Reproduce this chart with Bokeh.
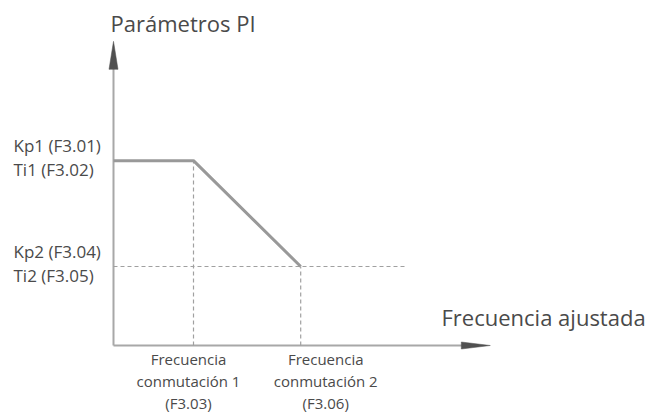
from bokeh.plotting import figure
from bokeh.models import Range1d
from bokeh.core.properties import value
from bokeh.embed import file_html
from bokeh.resources import INLINE

# ---- data ----
switch_freqs = [1.0, 2.34]          # Frecuencia conmutación 1 (F3.03), 2 (F3.06)
param_levels = [2.34, 1.0]          # Kp1/Ti1 level, Kp2/Ti2 level
x_axis_end = 4.71
y_axis_end = 3.85
dash_end = 3.675
left_labels = [["Kp1 (F3.01)", "Ti1 (F3.02)"], ["Kp2 (F3.04)", "Ti2 (F3.05)"]]
bottom_labels = [["Frecuencia", "conmutación 1", "(F3.03)"],
                 ["Frecuencia", "conmutación 2", "(F3.06)"]]
y_title = "Parámetros PI"
x_title = "Frecuencia ajustada"

W, H = 648, 418
ux, uy = 80.0, 79.0
ox, oy = 113.0, 345.0  # pixel position of origin (from left / from top)

p = figure(width=W, height=H, output_backend="svg", toolbar_location=None,
           x_range=Range1d(-ox / ux, (W - ox) / ux),
           y_range=Range1d(-(H - oy) / uy, oy / uy),
           min_border=0)
p.axis.visible = False
p.grid.visible = False
p.outline_line_color = None
p.background_fill_color = "white"
p.border_fill_color = "white"

FONT = value("Open Sans")
TXT = "#4a4a4a"
GRAY = "#a8a8a8"
DASH = "#a0a0a0"
HEAD = "#505050"

# axes lines
p.line([0, 0], [0, y_axis_end - 0.15], line_color=GRAY, line_width=2)
p.line([0, x_axis_end - 0.15], [0, 0], line_color=GRAY, line_width=2)

# arrowheads
ay_len = 28 / uy
ay_hw = 4.5 / ux
p.patch([0 - ay_hw, 0, 0 + ay_hw], [y_axis_end - ay_len, y_axis_end, y_axis_end - ay_len],
        fill_color=HEAD, line_color=HEAD, line_width=0.5)
ax_len = 29 / ux
ax_hh = 3.5 / uy
p.patch([x_axis_end - ax_len, x_axis_end, x_axis_end - ax_len],
        [ax_hh, 0, -ax_hh],
        fill_color=HEAD, line_color=HEAD, line_width=0.5)

# dashed guides
p.line([0, dash_end], [param_levels[1], param_levels[1]], line_color=DASH,
       line_width=1.2, line_dash="4 3")
p.line([switch_freqs[0], switch_freqs[0]], [0, param_levels[0]], line_color=DASH,
       line_width=1.2, line_dash="4 3")
p.line([switch_freqs[1], switch_freqs[1]], [0, param_levels[1]], line_color=DASH,
       line_width=1.2, line_dash="4 3")

# main curve
p.line([0, switch_freqs[0], switch_freqs[1]],
       [param_levels[0], param_levels[0], param_levels[1]],
       line_color="#999999", line_width=3)

# titles
p.text(x=[-3 / ux], y=[(345 - 22) / uy], text=[y_title], text_font=FONT,
       text_font_size="22px", text_color=TXT, text_align="left", text_baseline="alphabetic")
p.text(x=[(441 - 113) / ux], y=[(345 - 316) / uy], text=[x_title], text_font=FONT,
       text_font_size="22px", text_color=TXT, text_align="left", text_baseline="alphabetic")

# left labels
lx = -100 / ux
for lvl, pair in zip(param_levels, left_labels):
    p.text(x=[lx, lx], y=[lvl + 15 / uy, lvl - 9 / uy], text=pair, text_font=FONT,
           text_font_size="17px", text_color=TXT, text_align="left", text_baseline="alphabetic")

# bottom labels
label_shift = [-5 / ux, 25 / ux]
for f, dx, lines in zip(switch_freqs, label_shift, bottom_labels):
    p.text(x=[f + dx] * 3, y=[-13 / uy, -35 / uy, -57 / uy], text=lines, text_font=FONT,
           text_font_size="15px", text_color=TXT, text_align="center", text_baseline="alphabetic")

open("out.html", "w").write(file_html(p, INLINE))
